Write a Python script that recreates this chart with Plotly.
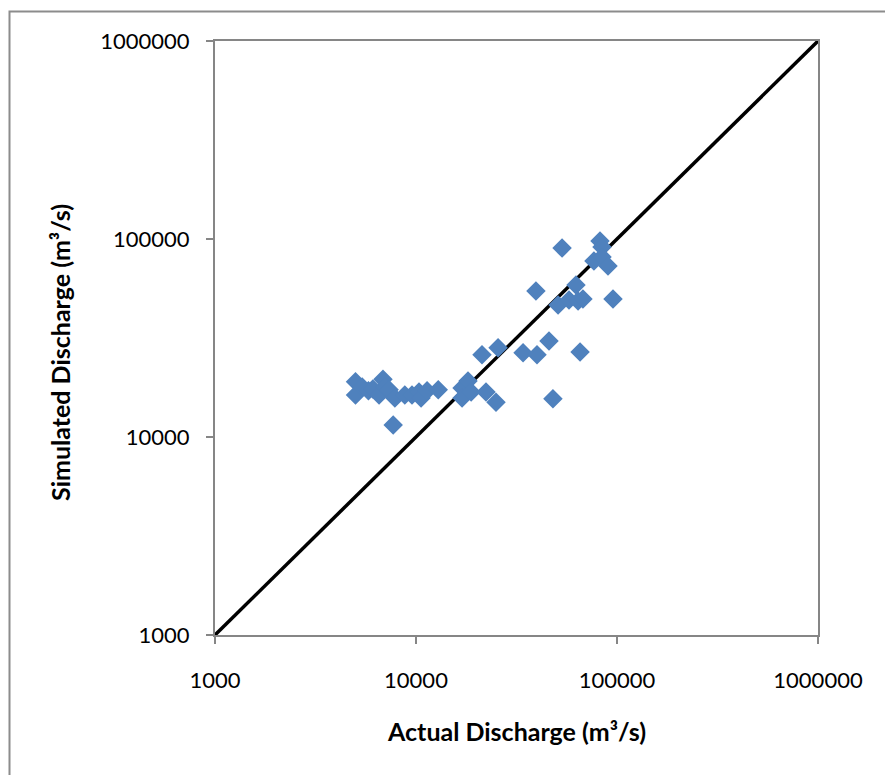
import plotly.graph_objects as go

# Observed (actual) vs. simulated peak discharge, m3/s
actual = [
    5000, 5000, 5400, 5800, 6100, 6550, 6850, 7000, 7350, 7700, 7850,
    8800, 9550, 10350, 10600, 11350, 12900,
    16950, 16950, 18150, 18800, 21300, 22300, 25000, 25600, 34100, 39500,
    40000, 45900, 48000, 50900, 53300, 57700, 62500, 64000, 67700, 65500,
    82300, 84200, 76800, 84200, 90200, 95500,
]
simulated = [
    19000, 16300, 17900, 17100, 17500, 16300, 19600, 17900, 17300, 11500, 15750,
    16300, 16300, 16900, 15750, 17100, 17300,
    17700, 15750, 19200, 16900, 26000, 16900, 15000, 28200, 26600, 54600,
    26000, 30500, 15600, 46400, 90000, 49200, 58600, 48600, 49800, 26900,
    97700, 91100, 77400, 81200, 73000, 49800,
]

# 1:1 reference line
line_x = [1000, 1000000]
line_y = [1000, 1000000]

tick_vals = [1000, 10000, 100000, 1000000]
tick_text = ["1000", "10000", "100000", "1000000"]

FONT = "Lato"
AXIS_GRAY = "#868686"

fig = go.Figure()
fig.add_trace(go.Scatter(
    x=line_x, y=line_y, mode="lines",
    line=dict(color="black", width=3.5),
    hoverinfo="skip", showlegend=False,
))
fig.add_trace(go.Scatter(
    x=actual, y=simulated, mode="markers",
    marker=dict(symbol="diamond", size=15, color="#4F81BD",
                line=dict(width=0)),
    showlegend=False,
))

axis_common = dict(
    type="log", range=[3, 6],
    tickvals=tick_vals, ticktext=tick_text,
    showgrid=False, zeroline=False,
    showline=True, linecolor=AXIS_GRAY, linewidth=2, mirror=True,
    ticks="outside", ticklen=7, tickwidth=2, tickcolor=AXIS_GRAY,
    tickfont=dict(family=FONT, size=22, color="black"),
)

fig.update_layout(
    width=885, height=775,
    margin=dict(l=215, r=67, t=41, b=140),
    paper_bgcolor="white", plot_bgcolor="white",
    xaxis=dict(**axis_common, ticklabelstandoff=18),
    yaxis=dict(**axis_common, ticklabelstandoff=12),
    annotations=[
        dict(text="<b>Actual Discharge (m³/s)</b>", xref="paper", yref="paper",
             x=0.5, y=(635 - 731) / 594, showarrow=False,
             font=dict(family=FONT, size=25, color="black"),
             xanchor="center", yanchor="middle"),
        dict(text="<b>Simulated Discharge (m³/s)</b>", xref="paper", yref="paper",
             x=(60 - 215) / 603, y=(635 - 353) / 594, showarrow=False,
             textangle=-90,
             font=dict(family=FONT, size=25, color="black"),
             xanchor="center", yanchor="middle"),
    ],
    shapes=[
        dict(type="rect", xref="paper", yref="paper",
             x0=(9.5 - 215) / 603, x1=(900 - 215) / 603,
             y0=(635 - 800) / 594, y1=(635 - 11.5) / 594,
             line=dict(color="#8C8C8C", width=2), layer="below"),
    ],
)

fig.write_html("out.html")
